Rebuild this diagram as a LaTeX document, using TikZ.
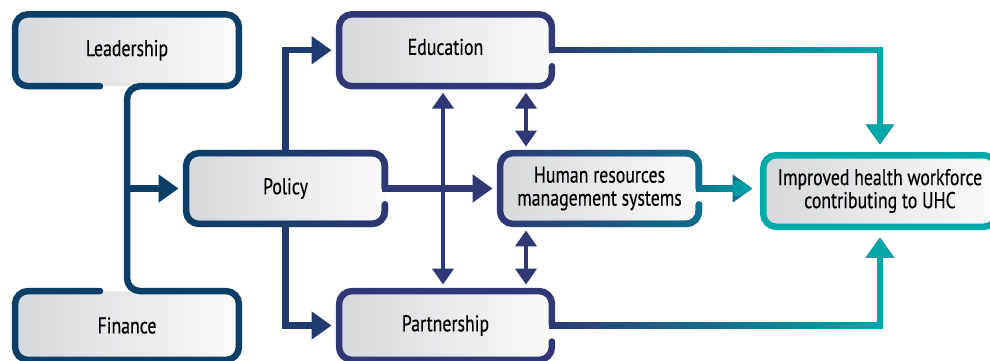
\documentclass[tikz,border=0pt]{standalone}
\usepackage{fontspec}
\setmainfont{PT Sans}[FakeStretch=0.78,FakeBold=0.35]
\usetikzlibrary{arrows.meta,calc,fadings}
\definecolor{dblue}{RGB}{11,63,103}
\definecolor{navy}{RGB}{47,55,117}
\definecolor{tblue}{RGB}{16,110,140}
\definecolor{uteal}{RGB}{0,168,170}
\definecolor{fillL}{RGB}{213,216,220}
\definecolor{fillR}{RGB}{250,250,250}
\tikzfading[name=ltor, left color=transparent!100, right color=transparent!0]
\begin{document}
\begin{tikzpicture}[x=1pt,y=-1pt,
  box/.style 2 args={rectangle, rounded corners=13pt, left color=fillL, right color=fillR,
    minimum width=#1, minimum height=#2, inner sep=0pt, text=black, align=center,
    font=\fontsize{22.8}{23}\selectfont},
  bline/.style={line width=6.5pt, line cap=round, line join=miter, rounded corners=13pt},
  conn/.style={line width=6.5pt, line join=miter, -{Triangle[length=20pt,width=27pt]}, shorten >=7.5pt},
  dbl/.style={line width=4.5pt, navy, {Triangle[length=16pt,width=21pt]}-{Triangle[length=16pt,width=21pt]}, shorten >=6.5pt, shorten <=6.5pt},
  grad/.style={postaction={draw=#1, path fading=ltor}}
]
\useasboundingbox (0,0) rectangle (990,361);
\clip (0,0) rectangle (990,361);

% boxes
\node[box={223.5pt}{71.5pt}] (lead) at (127,50.25) {Leadership};
\node[box={223.5pt}{68.5pt}] (fin) at (127,325.5) {Finance};
\node[box={198.5pt}{70.5pt}] (pol) at (285.5,188.5) {Policy};
\node[box={212.5pt}{71.5pt}] (edu) at (445.5,50.25) {Education\strut};
\node[box={212.5pt}{68.5pt}] (part) at (445.5,325.5) {Partnership};
\node[box={198.5pt}{70.5pt}] (hrms) at (599.5,188.5) {Human resources\\management systems};
\node[box={233.5pt}{71.5pt}, draw=uteal, line width=6.5pt] (imp) at (880,191) {Improved health workforce\\contributing to UHC};

% borders
\draw[bline, dblue] ($(lead.south)+(-27,0)$) -- (lead.south west) -- (lead.north west) -- (lead.north east)
  -- (lead.south east) -- (lead.south) -- (lead.south |- fin.north) -- (fin.north east) -- (fin.south east)
  -- (fin.south west) -- (fin.north west) -- ($(fin.north)+(-27,0)$);
\draw[bline, dblue, grad=navy] ($(pol.east)+(0,16)$) -- (pol.south east) -- (pol.south west) -- (pol.north west) -- (pol.north east) -- (pol.east);
\draw[bline, navy] ($(edu.east)+(0,16)$) -- (edu.south east) -- (edu.south west) -- (edu.north west) -- (edu.north east) -- (edu.east);
\draw[bline, navy] ($(part.east)+(0,16)$) -- (part.south east) -- (part.south west) -- (part.north west) -- (part.north east) -- (part.east);
\draw[bline, navy, grad=tblue] ($(hrms.east)+(0,16)$) -- (hrms.south east) -- (hrms.south west) -- (hrms.north west) -- (hrms.north east) -- (hrms.east);

% connectors
\draw[conn, dblue] (lead.south |- pol.west) -- (pol.west);
\draw[conn, navy!55!dblue] (pol.north) |- (edu.west);
\draw[conn, navy!55!dblue] (pol.south) |- (part.west);
\draw[conn, navy] ($(pol.east)+(-3.25,0)$) -- (hrms.west);
\draw[conn, navy, grad=uteal] ($(edu.east)+(-3.25,0)$) -| (imp.north);
\draw[conn, navy, grad=uteal] ($(part.east)+(-3.25,0)$) -| (imp.south);
\draw[conn, tblue, grad=uteal] ($(hrms.east)+(-3.25,0)$) -- (hrms.east -| imp.west);

\coordinate (d1) at (443,0);
\coordinate (d2) at (526,0);
\draw[dbl] (edu.south -| d1) -- (part.north -| d1);
\draw[dbl] (edu.south -| d2) -- (hrms.north -| d2);
\draw[dbl] (hrms.south -| d2) -- (part.north -| d2);
\end{tikzpicture}
\end{document}
